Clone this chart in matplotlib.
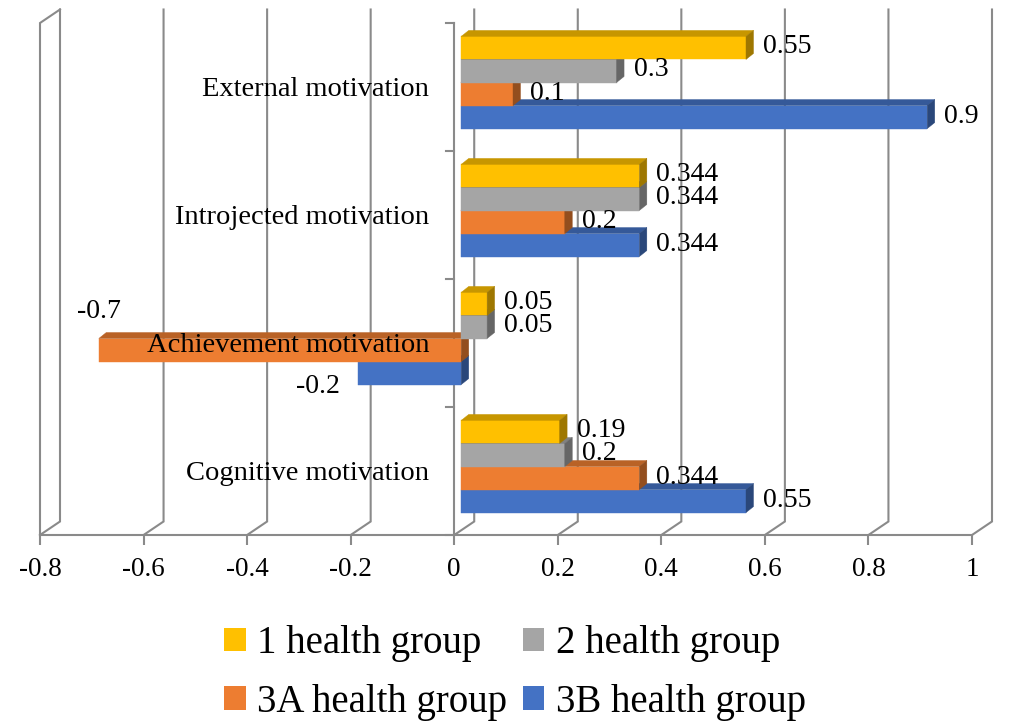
import matplotlib.pyplot as plt
from matplotlib.patches import Polygon, Patch
from matplotlib.colors import to_rgb
import numpy as np

plt.rcParams['font.family'] = ['Liberation Serif', 'DejaVu Serif']

# data (bottom category first)
categories = ['Cognitive motivation', 'Achievement motivation',
              'Introjected motivation', 'External motivation']
groups = ['1 health group', '2 health group', '3A health group', '3B health group']
group1 = [0.19, 0.05, 0.344, 0.55]
group2 = [0.2, 0.05, 0.344, 0.3]
group3a = [0.344, -0.7, 0.2, 0.1]
group3b = [0.55, -0.2, 0.344, 0.9]
colors = ['#FFC000', '#A5A5A5', '#ED7D31', '#4472C4']
xticks = [-0.8, -0.6, -0.4, -0.2, 0, 0.2, 0.4, 0.6, 0.8, 1.0]
xtick_labels = ['-0.8', '-0.6', '-0.4', '-0.2', '0', '0.2', '0.4', '0.6', '0.8', '1']

series = [group1, group2, group3a, group3b]
grid_color = '#8A8A8A'

fig = plt.figure(figsize=(10.09, 7.27), dpi=100)
ax = fig.add_axes([40 / 1009, 192 / 727, 932 / 1009, 512 / 727])
ax.set_xlim(-0.8, 1.0)
ax.set_ylim(0, len(categories))
for s in ['top', 'right', 'left']:
    ax.spines[s].set_visible(False)
ax.spines['bottom'].set_color(grid_color)
ax.spines['bottom'].set_linewidth(1.5)
ax.set_yticks([])
ax.set_xticks(xticks)
ax.set_xticklabels(xtick_labels, fontsize=19.5)
ax.tick_params(axis='x', direction='out', length=7, width=1.5, color=grid_color, pad=9)

# pixel size in data units
p0 = ax.transData.transform((0, 0))
p1 = ax.transData.transform((1, 1))
px_x = 1 / (p1[0] - p0[0])
px_y = 1 / (p1[1] - p0[1])

# 3d walls
top = len(categories)
wdx, wdy = 20 * px_x, 13.5 * px_y
line_kw = dict(color=grid_color, lw=1.5, clip_on=False, zorder=1, solid_joinstyle='miter')
for v in xticks:
    ax.plot([v, v + wdx, v + wdx], [0, wdy, top + wdy], **line_kw)
ax.plot([xticks[0] + wdx, xticks[0], xticks[0]], [top + wdy, top, 0], **line_kw)

# category axis at zero
ax.plot([0, 0], [0, top], **line_kw)
for b in range(len(categories) + 1):
    ax.plot([-8 * px_x, 0], [b, b], **line_kw)

# bars
bar_h = 0.18
fdx, fdy = 7 * px_x, 4.5 * px_y
ddx, ddy = 7.5 * px_x, 6 * px_y
ypos = np.arange(len(categories)) + 0.5 + fdy


def shade(c, f):
    return tuple(np.array(to_rgb(c)) * f)


for si in reversed(range(len(series))):
    vals = series[si]
    yc = ypos + (1.5 - si) * bar_h
    z = 3 + (3 - si) * 0.1
    ax.barh(yc, vals, height=bar_h, left=fdx, color=colors[si],
            edgecolor=colors[si], linewidth=0.3, zorder=z)
    for ci, v in enumerate(vals):
        y0, y1 = yc[ci] - bar_h / 2, yc[ci] + bar_h / 2
        x0, x1 = min(0, v) + fdx, max(0, v) + fdx
        topface = [(x0, y1), (x1, y1), (x1 + ddx, y1 + ddy), (x0 + ddx, y1 + ddy)]
        side = [(x1, y0), (x1 + ddx, y0 + ddy), (x1 + ddx, y1 + ddy), (x1, y1)]
        ax.add_patch(Polygon(topface, closed=True, facecolor=shade(colors[si], 0.78),
                             edgecolor=shade(colors[si], 0.78), lw=0.3, zorder=z))
        ax.add_patch(Polygon(side, closed=True, facecolor=shade(colors[si], 0.62),
                             edgecolor=shade(colors[si], 0.62), lw=0.3, zorder=z))
        # value label
        if v >= 0:
            ax.annotate(f'{v:g}', (v, yc[ci]), xytext=(7 + 17, 1),
                        textcoords='offset pixels', ha='left', va='center',
                        fontsize=20, zorder=10)
        elif v < -0.5:
            ax.annotate(f'{v:g}', (v, yc[ci]), xytext=(7, 39),
                        textcoords='offset pixels', ha='center', va='center',
                        fontsize=20, zorder=10)
        else:
            ax.annotate(f'{v:g}', (v, yc[ci]), xytext=(-33, -13),
                        textcoords='offset pixels', ha='center', va='center',
                        fontsize=20, zorder=10)

# category labels
for ci, cat in enumerate(categories):
    ax.annotate(cat, (0, ci + 0.5), xytext=(-25, -3), textcoords='offset pixels',
                ha='right', va='center', fontsize=20.5, zorder=12)

# legend: rows (1, 2) and (3A, 3B)
order = [0, 2, 1, 3]
handles = [Patch(facecolor=colors[i], edgecolor='none') for i in order]
fig.legend(handles, [groups[i] for i in order], ncol=2, loc='center',
           bbox_to_anchor=(515 / 1009, 54 / 727), frameon=False, fontsize=28,
           handlelength=0.55, handleheight=0.55, handletextpad=0.3,
           columnspacing=0.4, labelspacing=0.55, borderpad=0)

fig.savefig('out.png', dpi=100)
